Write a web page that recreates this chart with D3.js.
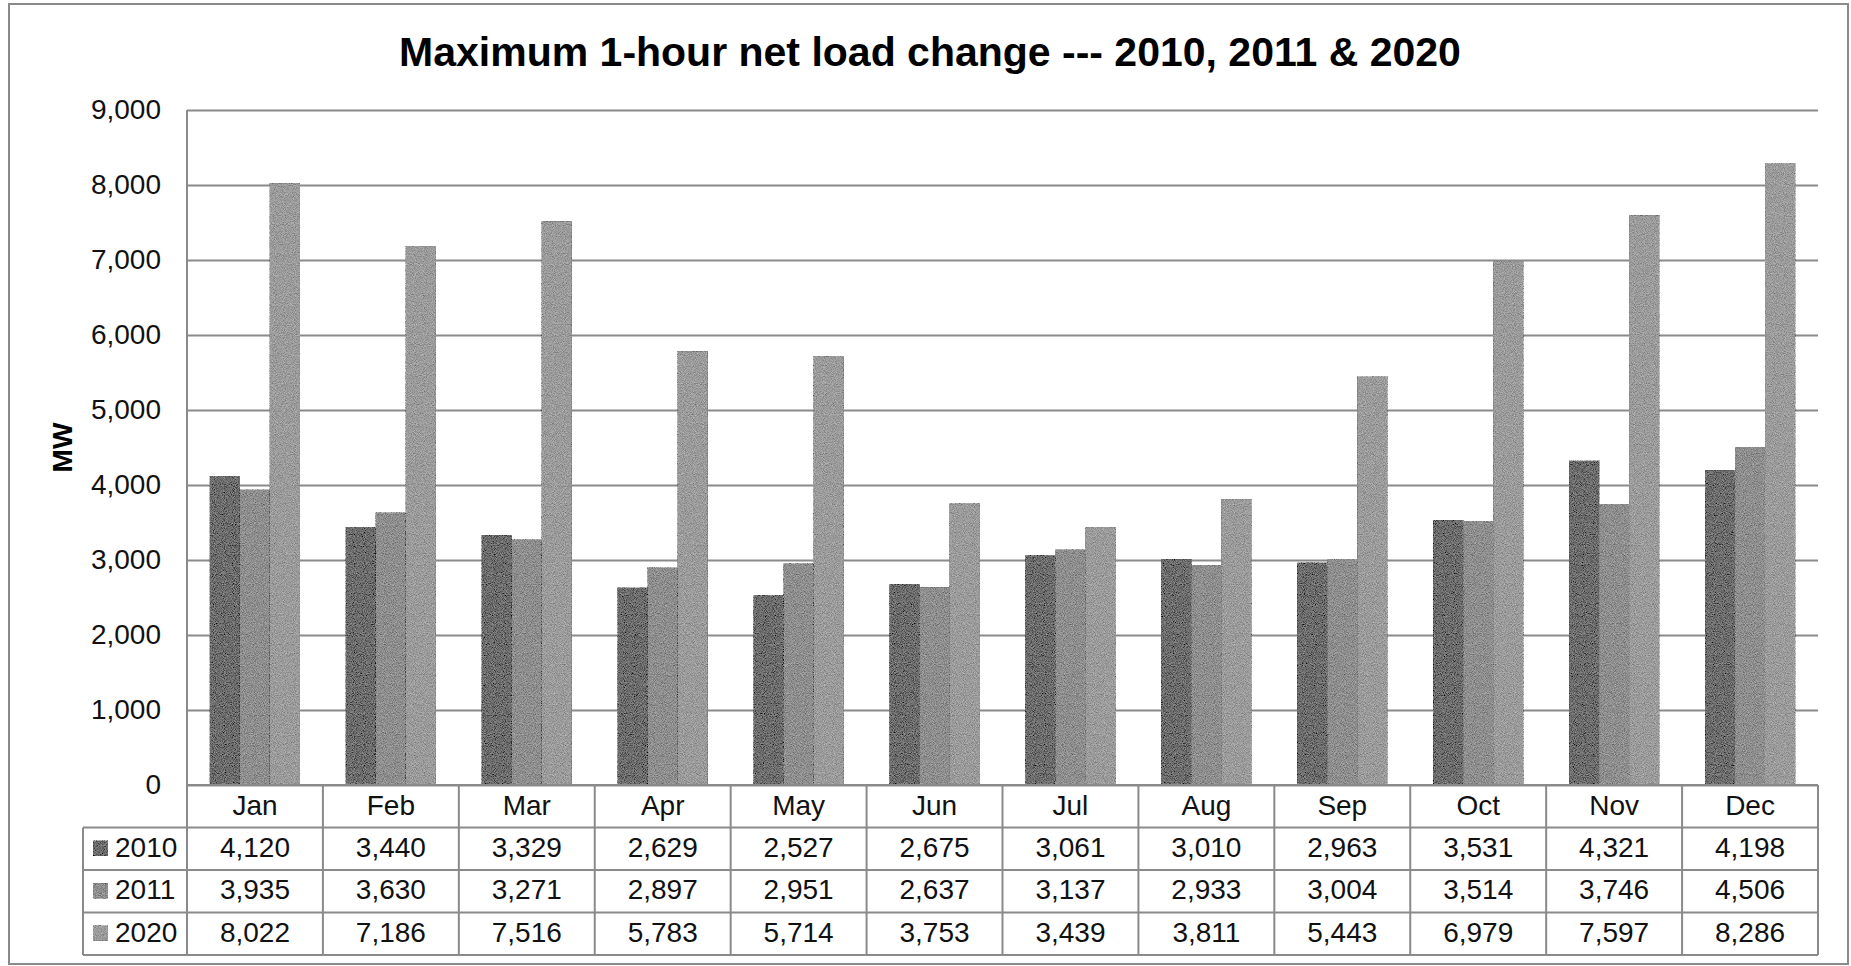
<!DOCTYPE html>
<html>
<head>
<meta charset="utf-8">
<script src="https://cdn.jsdelivr.net/npm/d3@7/dist/d3.min.js"></script>
<style>
  html, body { margin: 0; padding: 0; background: #fff; }
  svg { display: block; font-family: "Liberation Sans", Arial, sans-serif; }
</style>
</head>
<body>
<svg id="chart" width="1851" height="966"></svg>
<script>
// Monthly maximum 1-hour net load change (MW)
const months = ["Jan", "Feb", "Mar", "Apr", "May", "Jun", "Jul", "Aug", "Sep", "Oct", "Nov", "Dec"];
const seriesNames = ["2010", "2011", "2020"];
const values2010 = [4120, 3440, 3329, 2629, 2527, 2675, 3061, 3010, 2963, 3531, 4321, 4198];
const values2011 = [3935, 3630, 3271, 2897, 2951, 2637, 3137, 2933, 3004, 3514, 3746, 4506];
const values2020 = [8022, 7186, 7516, 5783, 5714, 3753, 3439, 3811, 5443, 6979, 7597, 8286];
const yTickValues = [0, 1000, 2000, 3000, 4000, 5000, 6000, 7000, 8000, 9000];
const titleText = "Maximum 1-hour net load change --- 2010, 2011 & 2020";
const yAxisLabel = "MW";

const seriesValues = [values2010, values2011, values2020];
const seriesColors = ["#6c6c6c", "#8e8e8e", "#9b9b9b"];

const W = 1851, H = 966;
const plot = { left: 187, right: 1818, top: 110, bottom: 785 };
const rowH = 42.5;
const legendLeft = 83;
const lineColor = "#8a8a8a";

const svg = d3.select("#chart");

// grain texture for the bars
const defs = svg.append("defs");
const grain = defs.append("filter").attr("id", "grain")
  .attr("x", 0).attr("y", 0).attr("width", "100%").attr("height", "100%");
grain.append("feTurbulence").attr("type", "fractalNoise").attr("baseFrequency", 1.1)
  .attr("numOctaves", 1).attr("seed", 7).attr("result", "t");
grain.append("feColorMatrix").attr("in", "t").attr("type", "matrix")
  .attr("values", "1 0 0 0 0  1 0 0 0 0  1 0 0 0 0  0 0 0 0 1").attr("result", "g");
grain.append("feComposite").attr("in", "SourceGraphic").attr("in2", "g")
  .attr("operator", "arithmetic").attr("k1", 0).attr("k2", 1).attr("k3", 0.55).attr("k4", -0.275);

// outer frame
svg.append("rect").attr("x", 9).attr("y", 4).attr("width", 1839).attr("height", 960)
  .attr("fill", "#fff").attr("stroke", lineColor).attr("stroke-width", 2);

// title
svg.append("text").attr("x", 930).attr("y", 66).attr("text-anchor", "middle")
  .attr("font-size", 41).attr("font-weight", "bold").attr("fill", "#000").text(titleText);

// scales
const y = d3.scaleLinear().domain([0, 9000]).range([plot.bottom, plot.top]);
const x0 = d3.scaleBand().domain(months).range([plot.left, plot.right]).padding(0);
const groupW = x0.bandwidth() * 0.662;
const x1 = d3.scaleBand().domain(seriesNames)
  .range([(x0.bandwidth() - groupW) / 2, (x0.bandwidth() + groupW) / 2]).padding(0);

// gridlines
const grid = svg.append("g").attr("transform", `translate(${plot.left},0)`)
  .call(d3.axisLeft(y).tickValues(yTickValues).tickSize(-(plot.right - plot.left)).tickFormat(""));
grid.select(".domain").remove();
grid.selectAll("line").attr("stroke", lineColor).attr("stroke-width", 2);

// bars
const barData = [];
months.forEach((m, i) => seriesNames.forEach((s, j) => barData.push({ month: m, series: s, value: seriesValues[j][i], color: seriesColors[j] })));
svg.append("g").selectAll("rect").data(barData).join("rect")
  .attr("x", d => x0(d.month) + x1(d.series))
  .attr("y", d => y(d.value))
  .attr("width", x1.bandwidth())
  .attr("height", d => y(0) - y(d.value))
  .attr("fill", d => d.color)
  .attr("filter", "url(#grain)");

// y axis labels
const yAxis = svg.append("g").attr("transform", `translate(${plot.left},0)`)
  .call(d3.axisLeft(y).tickValues(yTickValues).tickSize(0).tickPadding(26).tickFormat(d3.format(",")));
yAxis.select(".domain").remove();
yAxis.selectAll("text").attr("font-size", 28).attr("fill", "#111")
  .attr("font-family", "'Liberation Sans', Arial, sans-serif");

// plot left edge
svg.append("line").attr("x1", plot.left).attr("x2", plot.left)
  .attr("y1", plot.top).attr("y2", plot.bottom)
  .attr("stroke", lineColor).attr("stroke-width", 2);

// axis title
svg.append("text").attr("transform", `translate(72,${(plot.top + plot.bottom) / 2}) rotate(-90)`)
  .attr("text-anchor", "middle").attr("font-size", 28).attr("font-weight", "bold")
  .attr("fill", "#000").text(yAxisLabel);

// data table
const table = svg.append("g");
const tableBottom = plot.bottom + rowH * 4;

// month header row
table.selectAll("text.month").data(months).join("text").attr("class", "month")
  .attr("x", d => x0(d) + x0.bandwidth() / 2).attr("y", plot.bottom + rowH / 2 + 9)
  .attr("text-anchor", "middle").attr("font-size", 28).attr("fill", "#111").text(d => d);

// value rows
seriesNames.forEach((s, j) => {
  const rowTop = plot.bottom + rowH * (j + 1);
  const row = table.append("g");
  row.selectAll("text").data(seriesValues[j]).join("text")
    .attr("x", (d, i) => x0(months[i]) + x0.bandwidth() / 2).attr("y", rowTop + rowH / 2 + 8)
    .attr("text-anchor", "middle").attr("font-size", 28).attr("fill", "#111")
    .text(d => d3.format(",")(d));
  row.append("rect").attr("x", legendLeft + 10).attr("y", rowTop + rowH / 2 - 8)
    .attr("width", 15).attr("height", 15).attr("fill", seriesColors[j]).attr("filter", "url(#grain)");
  row.append("text").attr("x", legendLeft + 32).attr("y", rowTop + rowH / 2 + 8)
    .attr("font-size", 28).attr("fill", "#111").text(s);
});

// table grid lines
const tl = table.append("g").attr("stroke", lineColor).attr("stroke-width", 2).attr("fill", "none");
// horizontal: baseline + row separators
tl.append("line").attr("x1", plot.left).attr("x2", plot.right).attr("y1", plot.bottom).attr("y2", plot.bottom);
for (let r = 1; r <= 4; r++) {
  tl.append("line").attr("x1", legendLeft).attr("x2", plot.right)
    .attr("y1", plot.bottom + rowH * r).attr("y2", plot.bottom + rowH * r);
}
// vertical column dividers
months.forEach(m => {
  tl.append("line").attr("x1", x0(m)).attr("x2", x0(m)).attr("y1", plot.bottom).attr("y2", tableBottom);
});
tl.append("line").attr("x1", plot.right).attr("x2", plot.right).attr("y1", plot.bottom).attr("y2", tableBottom);
tl.append("line").attr("x1", legendLeft).attr("x2", legendLeft).attr("y1", plot.bottom + rowH).attr("y2", tableBottom);
</script>
</body>
</html>
